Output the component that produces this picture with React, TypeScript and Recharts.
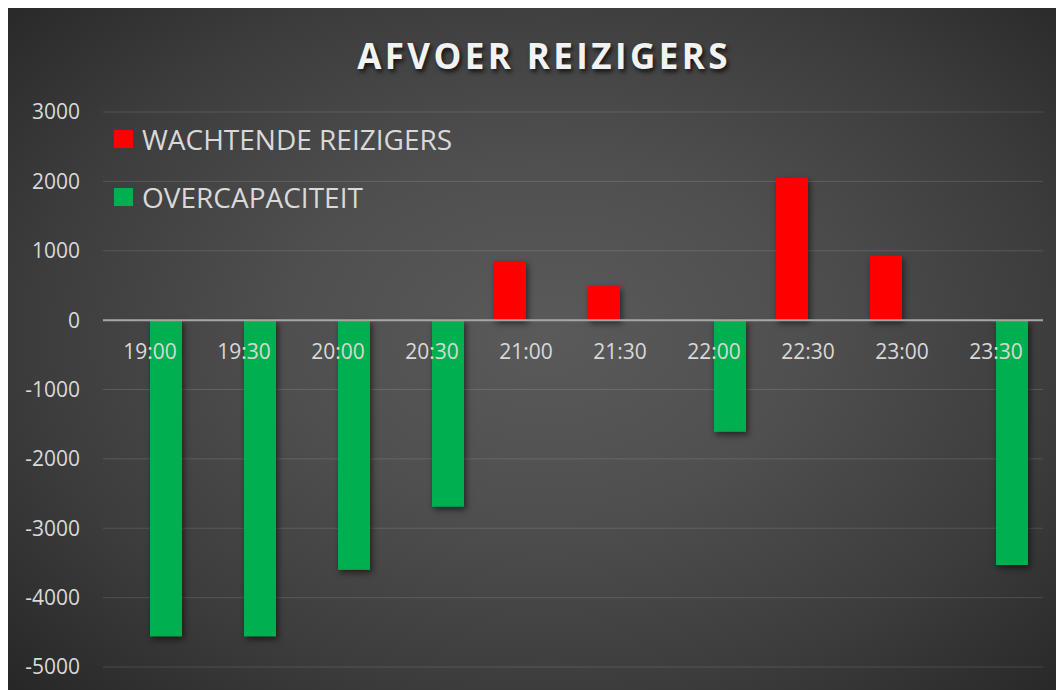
import React from 'react';
import { BarChart, Bar, XAxis, YAxis, CartesianGrid, ReferenceLine } from 'recharts';

const categories = ['19:00', '19:30', '20:00', '20:30', '21:00', '21:30', '22:00', '22:30', '23:00', '23:30'];
const waitingValues: (number | null)[] = [null, null, null, null, 850, 490, null, 2050, 930, null];
const overcapValues: (number | null)[] = [-4560, -4560, -3600, -2690, null, null, -1610, null, null, -3530];
const yTicks = [3000, 2000, 1000, 0, -1000, -2000, -3000, -4000, -5000];
const seriesNames = ['WACHTENDE REIZIGERS', 'OVERCAPACITEIT'];
const seriesColors = ['#ff0000', '#00b050'];
const title = 'AFVOER REIZIGERS';

const data = categories.map((c, i) => ({ cat: c, waiting: waitingValues[i], over: overcapValues[i] }));

const W = 1056;
const H = 682;
const X_AXIS_H = 23;
const MARGIN = { top: 104, right: 21, bottom: 0, left: 0 };
const Y_MIN = -5000;
const Y_MAX = 3000;
const PLOT_H = H - MARGIN.top - MARGIN.bottom - X_AXIS_H;
const ZERO_Y = MARGIN.top + (PLOT_H * Y_MAX) / (Y_MAX - Y_MIN);
const FONT = '"Open Sans", "Noto Sans", sans-serif';
const TEXT = '#d9d9d9';

const XTick = (props: any) => {
  const { x, payload } = props;
  return (
    <text x={x} y={ZERO_Y + 39} textAnchor="middle" fill={TEXT} fontSize={21} fontFamily={FONT}>
      {payload.value}
    </text>
  );
};

const ShadowBar = (props: any) => {
  const { x, y, width, height, fill } = props;
  if (height == null || width == null || height === 0) return null;
  const top = height < 0 ? y + height : y;
  const h = Math.abs(height);
  return (
    <rect x={x} y={top} width={width} height={h} fill={fill}
      style={{ filter: 'drop-shadow(2px 3px 3px rgba(0,0,0,0.55))' }} />
  );
};

const LegendBox = () => (
  <div style={{ position: 'absolute', left: 106, top: 116, fontFamily: FONT, zIndex: 2 }}>
    {seriesNames.map((n, i) => (
      <div key={n} style={{ display: 'flex', alignItems: 'center', height: 30, marginBottom: i === 0 ? 28 : 0 }}>
        <div style={{ width: 19, height: 18, background: seriesColors[i], marginRight: 9 }} />
        <span style={{ color: TEXT, fontSize: 28, lineHeight: '30px', whiteSpace: 'nowrap' }}>{n}</span>
      </div>
    ))}
  </div>
);

export default function App() {
  return (
    <div
      style={{
        position: 'relative',
        width: W,
        height: H,
        background:
          'radial-gradient(ellipse 70% 75% at 51% 48%, #5a5a5a 0%, #4f4f4f 35%, #3c3c3c 70%, #272727 100%)',
        overflow: 'hidden',
      }}
    >
      <div
        style={{
          position: 'absolute',
          left: 0,
          width: W,
          top: 24,
          textAlign: 'center',
          fontFamily: FONT,
          fontWeight: 700,
          fontSize: 35,
          letterSpacing: 3.4,
          color: '#f2f2f2',
          textShadow: '2px 3px 4px rgba(0,0,0,0.7)',
          lineHeight: '48px',
          paddingLeft: 8,
          zIndex: 2,
        }}
      >
        {title}
      </div>
      <LegendBox />
      <BarChart width={W} height={H} data={data} margin={MARGIN} barGap={0} barSize={32}>
        <CartesianGrid horizontal vertical={false} stroke="rgba(255,255,255,0.13)" strokeWidth={1} />
        <XAxis dataKey="cat" height={X_AXIS_H} axisLine={false} tickLine={false} tick={<XTick />} interval={0} />
        <YAxis
          width={95}
          domain={[Y_MIN, Y_MAX]}
          ticks={yTicks}
          interval={0}
          axisLine={false}
          tickLine={false}
          tickSize={0}
          tickMargin={23}
          tick={{ fill: TEXT, fontSize: 21, fontFamily: FONT }}
        />
        <Bar dataKey="waiting" name={seriesNames[0]} fill={seriesColors[0]} isAnimationActive={false} shape={<ShadowBar />} />
        <Bar dataKey="over" name={seriesNames[1]} fill={seriesColors[1]} isAnimationActive={false} shape={<ShadowBar />} />
        <ReferenceLine y={0} stroke="#a6a6a6" strokeWidth={2} />
      </BarChart>
    </div>
  );
}
